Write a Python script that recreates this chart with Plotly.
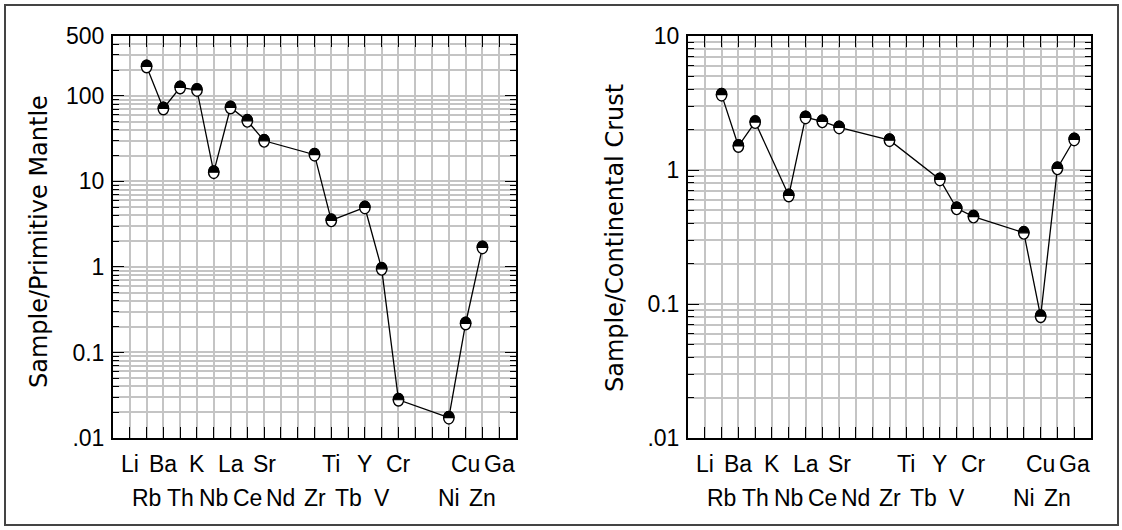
import math
import plotly.graph_objects as go

# ---------------- data ----------------
elements = ["Li", "Rb", "Ba", "Th", "K", "Nb", "La", "Ce", "Sr", "Nd", "",
            "Zr", "Ti", "Tb", "Y", "V", "Cr", "", "", "Ni", "Cu", "Zn", "Ga"]
positions = list(range(1, len(elements) + 1))

primitive_mantle = [None, 220, 71, 125, 117, 12.8, 73, 51, 29.8, None, None,
                    20.5, 3.5, None, 4.95, 0.95, 0.028, None, None, 0.0173, 0.218, 1.69, None]
continental_crust = [None, 3.65, 1.51, 2.28, None, 0.645, 2.47, 2.31, 2.08, None, None,
                     1.67, None, None, 0.85, 0.518, 0.449, None, None, 0.34, 0.081, 1.03, 1.69]

left_ticks = [0.01, 0.1, 1, 10, 100, 500]
left_ticktext = [".01", "0.1", "1", "10", "100", "500"]
right_ticks = [0.01, 0.1, 1, 10]
right_ticktext = [".01", "0.1", "1", "10"]

left_title = "Sample/Primitive Mantle"
right_title = "Sample/Continental Crust"

# ---------------- layout geometry ----------------
W, H = 1122, 530
plot_top, plot_bottom = 36, 438
left_x = (113, 516)
right_x = (688, 1091)
ydom = [1 - plot_bottom / H, 1 - plot_top / H]

FONT = "Liberation Sans, Arial, sans-serif"
TITLE_FONT = "DejaVu Sans, Liberation Sans, sans-serif"
GRID = "#c4c4c4"


def minor_vals(lo, hi):
    out = []
    for d in range(-3, 4):
        for k in range(2, 10):
            v = k * 10 ** d
            if lo < v < hi:
                out.append(v)
    return out


fig = go.Figure()

for vals, xa, ya in [(primitive_mantle, "x", "y"), (continental_crust, "x2", "y2")]:
    fig.add_trace(go.Scatter(
        x=positions, y=vals, mode="lines", connectgaps=True,
        line=dict(color="black", width=1.3), xaxis=xa, yaxis=ya,
        showlegend=False, hoverinfo="skip"))

common_x = dict(range=[0, len(elements) + 1], tickmode="array", tickvals=positions,
                showticklabels=False, ticks="inside", ticklen=11, tickwidth=1.3,
                tickcolor="black", showgrid=True, gridcolor=GRID, gridwidth=1.5,
                zeroline=False, showline=True, linecolor="black", linewidth=2,
                mirror="ticks")


def yaxis_cfg(lo, hi, tv, tt):
    return dict(type="log", range=[math.log10(lo), math.log10(hi)], tickmode="array",
                tickvals=tv, ticktext=tt, ticks="inside", ticklen=11, tickwidth=1.3,
                tickcolor="black", showgrid=True, gridcolor=GRID, gridwidth=1.5,
                zeroline=False, showline=True, linecolor="black", linewidth=2,
                mirror="ticks", tickfont=dict(family=FONT, size=23, color="black"),
                ticklabelstandoff=2,
                minor=dict(tickmode="array", tickvals=minor_vals(lo, hi), ticks="inside",
                           ticklen=6, tickwidth=1.3, tickcolor="black", showgrid=True,
                           gridcolor=GRID, gridwidth=1.5))


fig.update_layout(
    width=W, height=H, margin=dict(l=0, r=0, t=0, b=0, pad=0, autoexpand=False),
    paper_bgcolor="white", plot_bgcolor="white",
    xaxis=dict(domain=[left_x[0] / W, left_x[1] / W], anchor="y", **common_x),
    yaxis=dict(domain=ydom, anchor="x", **yaxis_cfg(0.01, 500, left_ticks, left_ticktext)),
    xaxis2=dict(domain=[right_x[0] / W, right_x[1] / W], anchor="y2", **common_x),
    yaxis2=dict(domain=ydom, anchor="x2", **yaxis_cfg(0.01, 10, right_ticks, right_ticktext)),
)

shapes = []
annotations = []

# outer frame
shapes.append(dict(type="rect", xref="paper", yref="paper",
                   x0=5 / W, x1=1118 / W, y0=1 - 525 / H, y1=1 - 5 / H,
                   line=dict(color="#444444", width=2), fillcolor="rgba(0,0,0,0)", layer="below"))

# half-filled markers (pixel-sized paths anchored at data points)
rx, ry = 5.2, 6.3
k = 0.5523
upper = (f"M {-rx},0 C {-rx},{k*ry} {-k*rx},{ry} 0,{ry} "
         f"C {k*rx},{ry} {rx},{k*ry} {rx},0")
lower = (f" C {rx},{-k*ry} {k*rx},{-ry} 0,{-ry} "
         f"C {-k*rx},{-ry} {-rx},{-k*ry} {-rx},0 Z")
full_ellipse = upper + lower
top_half = upper + " Z"
for vals, xa, ya in [(primitive_mantle, "x", "y"), (continental_crust, "x2", "y2")]:
    for p, v in zip(positions, vals):
        if v is None:
            continue
        shapes.append(dict(type="path", xref=xa, yref=ya, xsizemode="pixel", ysizemode="pixel",
                           xanchor=p, yanchor=v, path=full_ellipse,
                           fillcolor="white", line=dict(color="black", width=1.4)))
        shapes.append(dict(type="path", xref=xa, yref=ya, xsizemode="pixel", ysizemode="pixel",
                           xanchor=p, yanchor=v, path=top_half,
                           fillcolor="black", line=dict(color="black", width=1.2)))

# element labels in two staggered rows
row1_y = 1 - 464 / H
row2_y = 1 - 498 / H
for xa in ["x", "x2"]:
    for p, lab in zip(positions, elements):
        if not lab:
            continue
        annotations.append(dict(x=p, y=row1_y if p % 2 == 1 else row2_y, xref=xa, yref="paper",
                                text=lab, showarrow=False, xanchor="center", yanchor="middle",
                                font=dict(family=FONT, size=23, color="black")))

# axis titles
annotations.append(dict(x=39 / W, y=1 - 242 / H, xref="paper", yref="paper", text=left_title,
                        textangle=-90, showarrow=False, xanchor="center", yanchor="middle",
                        font=dict(family=TITLE_FONT, size=24, color="black")))
annotations.append(dict(x=615 / W, y=1 - 238 / H, xref="paper", yref="paper", text=right_title,
                        textangle=-90, showarrow=False, xanchor="center", yanchor="middle",
                        font=dict(family=TITLE_FONT, size=24, color="black")))

fig.update_layout(shapes=shapes, annotations=annotations)
fig.write_html("out.html")
